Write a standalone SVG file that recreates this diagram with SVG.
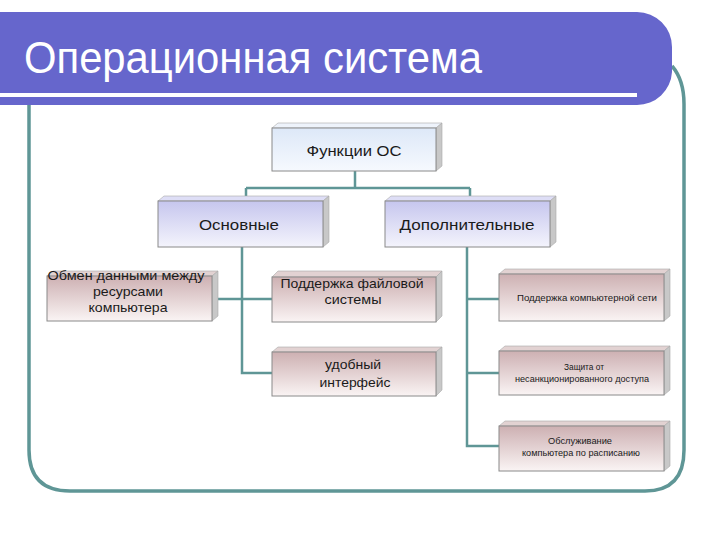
<svg xmlns="http://www.w3.org/2000/svg" width="720" height="540" viewBox="0 0 720 540">
<defs>
<linearGradient id="gBlue" x1="0" y1="0" x2="0" y2="1"><stop offset="0" stop-color="#dde8f8"/><stop offset="1" stop-color="#f6f9fe"/></linearGradient>
<linearGradient id="gLav" x1="0" y1="0" x2="0" y2="1"><stop offset="0" stop-color="#c6c6ee"/><stop offset="1" stop-color="#f4f4fc"/></linearGradient>
<linearGradient id="gPink" x1="0" y1="0" x2="0" y2="1"><stop offset="0" stop-color="#cdb0b2"/><stop offset="1" stop-color="#faf4f4"/></linearGradient>
<style>
.conn{fill:none;stroke:#5f9696;stroke-width:2.5}
.face{stroke:#8a8a8a;stroke-width:1}
.top{stroke:#aaaaaa;stroke-width:0.6}
.side{fill:#c8c8c8;stroke:#aaaaaa;stroke-width:0.6}
.t{font-family:"Liberation Sans",Arial,sans-serif;fill:#1a1a1a;text-anchor:middle}
.big{font-size:14px}
.mid{font-size:13px}
.sm{font-size:9px}
</style>
</defs>
<rect width="720" height="540" fill="#ffffff"/>
<g id="frame">
<path d="M29,104 V450 Q29,491 70,491 H645 Q684,491 684,450 V104 Q684,80 672,66" fill="none" stroke="#5f9696" stroke-width="3.5"/>
</g>
<g id="banner">
<path d="M0,12 H637 A35,35 0 0 1 672,47 V72 A35,35 0 0 1 637,105 H0 Z" fill="#6666cc"/>
<rect x="0" y="93" width="637" height="4" fill="#ffffff"/>
<text x="24" y="73" font-family="'Liberation Sans',Arial,sans-serif" font-size="45" fill="#ffffff" textLength="458" lengthAdjust="spacingAndGlyphs">Операционная система</text>
</g>
<g id="connectors">
<path class="conn" d="M355,171 V188 M246,188 H470 M246,188 V197 M470,188 V197"/>
<path class="conn" d="M242,247 V373 H272 M212,299 H272"/>
<path class="conn" d="M467,247 V446 H499 M467,299 H499 M467,373 H499"/>
</g>
<g id="n-func">
<polygon class="top" points="272,128 278,123 442,123 436,128" fill="#eef3fb"/>
<polygon class="side" points="436,128 442,123 442,166 436,171"/>
<rect class="face" x="272" y="128" width="164" height="43" fill="url(#gBlue)"/>
<text class="t big" x="354" y="156" textLength="95" lengthAdjust="spacingAndGlyphs">Функции ОС</text>
</g>
<g id="n-main">
<polygon class="top" points="158,201 164,196 329,196 323,201" fill="#dedef6"/>
<polygon class="side" points="323,201 329,196 329,242 323,247"/>
<rect class="face" x="158" y="201" width="165" height="46" fill="url(#gLav)"/>
<text class="t big" x="239" y="230" textLength="80" lengthAdjust="spacingAndGlyphs">Основные</text>
</g>
<g id="n-extra">
<polygon class="top" points="385,201 391,196 556,196 550,201" fill="#dedef6"/>
<polygon class="side" points="550,201 556,196 556,242 550,247"/>
<rect class="face" x="385" y="201" width="165" height="46" fill="url(#gLav)"/>
<text class="t big" x="467" y="230" textLength="135" lengthAdjust="spacingAndGlyphs">Дополнительные</text>
</g>
<g id="n-exchange">
<polygon class="top" points="47,276 53,271 218,271 212,276" fill="#e2d2d2"/>
<polygon class="side" points="212,276 218,271 218,316 212,321"/>
<rect class="face" x="47" y="276" width="165" height="45" fill="url(#gPink)"/>
<text class="t mid" x="126" y="280" textLength="157" lengthAdjust="spacingAndGlyphs">Обмен данными между</text>
<text class="t mid" x="128" y="296" textLength="70" lengthAdjust="spacingAndGlyphs">ресурсами</text>
<text class="t mid" x="128" y="312" textLength="79" lengthAdjust="spacingAndGlyphs">компьютера</text>
</g>
<g id="n-fs">
<polygon class="top" points="272,277 278,271 442,271 436,277" fill="#e2d2d2"/>
<polygon class="side" points="436,277 442,271 442,316 436,322"/>
<rect class="face" x="272" y="277" width="164" height="45" fill="url(#gPink)"/>
<text class="t mid" x="352" y="288" textLength="143" lengthAdjust="spacingAndGlyphs">Поддержка файловой</text>
<text class="t mid" x="353" y="304" textLength="57" lengthAdjust="spacingAndGlyphs">системы</text>
</g>
<g id="n-ui">
<polygon class="top" points="272,352 278,347 442,347 436,352" fill="#e2d2d2"/>
<polygon class="side" points="436,352 442,347 442,390 436,396"/>
<rect class="face" x="272" y="352" width="164" height="44" fill="url(#gPink)"/>
<text class="t mid" x="353" y="369" textLength="56" lengthAdjust="spacingAndGlyphs">удобный</text>
<text class="t mid" x="355" y="387" textLength="71" lengthAdjust="spacingAndGlyphs">интерфейс</text>
</g>
<g id="n-net">
<polygon class="top" points="499,274 505,269 670,269 664,274" fill="#e2d2d2"/>
<polygon class="side" points="664,274 670,269 670,316 664,321"/>
<rect class="face" x="499" y="274" width="165" height="47" fill="url(#gPink)"/>
<text class="t sm" x="587" y="301" textLength="140" lengthAdjust="spacingAndGlyphs">Поддержка компьютерной сети</text>
</g>
<g id="n-sec">
<polygon class="top" points="499,351 505,346 670,346 664,351" fill="#e2d2d2"/>
<polygon class="side" points="664,351 670,346 670,390 664,395"/>
<rect class="face" x="499" y="351" width="165" height="44" fill="url(#gPink)"/>
<text class="t sm" x="584" y="370" textLength="40" lengthAdjust="spacingAndGlyphs">Защита от</text>
<text class="t sm" x="582" y="382" textLength="134" lengthAdjust="spacingAndGlyphs">несанкционированного доступа</text>
</g>
<g id="n-sched">
<polygon class="top" points="499,426 505,421 670,421 664,426" fill="#e2d2d2"/>
<polygon class="side" points="664,426 670,421 670,466 664,471"/>
<rect class="face" x="499" y="426" width="165" height="45" fill="url(#gPink)"/>
<text class="t sm" x="580" y="444" textLength="64" lengthAdjust="spacingAndGlyphs">Обслуживание</text>
<text class="t sm" x="581" y="456" textLength="118" lengthAdjust="spacingAndGlyphs">компьютера по расписанию</text>
</g>
</svg>
